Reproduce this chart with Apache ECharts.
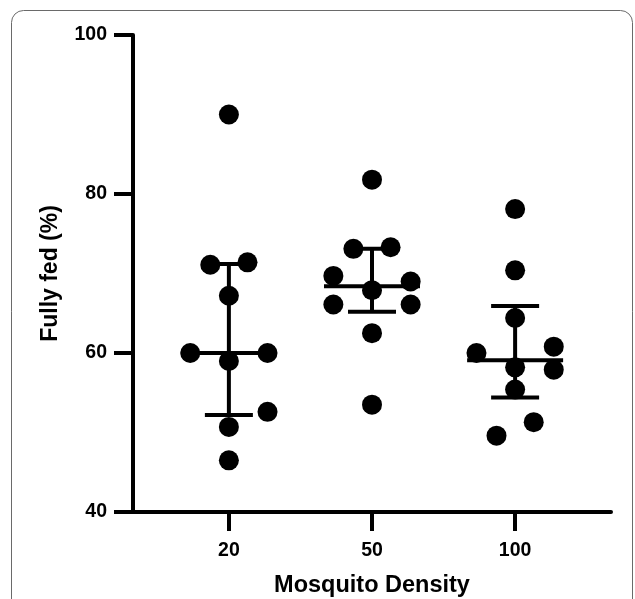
<!DOCTYPE html>
<html>
<head>
<meta charset="utf-8">
<script src="https://cdn.jsdelivr.net/npm/echarts@6/dist/echarts.min.js"></script>
<style>html,body{margin:0;padding:0;background:#fff;}#chart{width:635px;height:599px;}</style>
</head>
<body>
<div id="chart"></div>
<script>
// ---- data ----
var categories = ['20', '50', '100'];
var yTicks = [40, 60, 80, 100];
var fed20  = [90.0, 71.1, 71.4, 67.2, 60.0, 60.0, 59.0, 52.6, 50.7, 46.5];
var jit20  = [0, -0.13, 0.13, 0, -0.27, 0.27, 0, 0.27, 0, 0];
var fed50  = [81.8, 73.1, 73.3, 69.7, 69.0, 67.9, 66.1, 66.1, 62.5, 53.5];
var jit50  = [0, -0.13, 0.13, -0.27, 0.27, 0, -0.27, 0.27, 0, 0];
var fed100 = [78.1, 70.4, 64.4, 60.0, 60.8, 58.2, 57.9, 55.4, 51.3, 49.6];
var jit100 = [0, 0, 0, -0.27, 0.27, 0, 0.27, 0, 0.13, -0.13];
var medians = [60.0, 68.4, 59.1];
var q1 = [52.2, 65.2, 54.4];
var q3 = [71.2, 73.1, 65.9];

var groups = [[fed20, jit20], [fed50, jit50], [fed100, jit100]];
var points = [];
groups.forEach(function (g, gi) {
  g[0].forEach(function (v, i) { points.push([gi + 1 + g[1][i], v]); });
});
var bars = categories.map(function (c, i) { return [i + 1, medians[i], q1[i], q3[i]]; });

var FONT = '"Liberation Sans", Arial, sans-serif';
var chart = echarts.init(document.getElementById('chart'), null, {renderer: 'canvas'});
chart.setOption({
  animation: false,
  backgroundColor: '#fff',
  graphic: [{
    type: 'rect', shape: {x: 11.5, y: 10.5, width: 621, height: 640, r: 12},
    style: {fill: 'none', stroke: '#6a6a6a', lineWidth: 1}, z: 0
  }],
  grid: {left: 133, right: 24, top: 35, bottom: 87, containLabel: false, outerBoundsMode: 'none'},
  xAxis: {
    type: 'value', min: 0.33, max: 3.67,
    name: 'Mosquito Density', nameLocation: 'middle', nameGap: 62,
    nameTextStyle: {fontFamily: FONT, fontWeight: 'bold', fontSize: 23.5, color: '#000'},
    axisLine: {show: true, lineStyle: {color: '#000', width: 4}},
    axisTick: {show: true, customValues: [1, 2, 3], length: 19, lineStyle: {color: '#000', width: 4}},
    axisLabel: {customValues: [1, 2, 3], margin: 29, fontFamily: FONT, fontWeight: 'bold', fontSize: 19.5, color: '#000',
      formatter: function (v) { return categories[Math.round(v) - 1]; }},
    splitLine: {show: false}
  },
  yAxis: {
    type: 'value', min: 40, max: 100, interval: 20,
    name: 'Fully fed (%)', nameLocation: 'middle', nameGap: 71,
    nameTextStyle: {fontFamily: FONT, fontWeight: 'bold', fontSize: 23, color: '#000'},
    axisLine: {show: true, lineStyle: {color: '#000', width: 4}},
    axisTick: {show: true, length: 19, lineStyle: {color: '#000', width: 4}},
    axisLabel: {margin: 26, fontFamily: FONT, fontWeight: 'bold', fontSize: 19.5, color: '#000',
      padding: [6, 0, 0, 0], customValues: yTicks},
    splitLine: {show: false}
  },
  series: [{
    type: 'scatter', data: points, symbol: 'circle', symbolSize: 20,
    itemStyle: {color: '#000', opacity: 1}, z: 2
  }, {
    type: 'custom', data: bars, z: 3,
    renderItem: function (params, api) {
      var x = api.value(0);
      var m = api.coord([x, api.value(1)]);
      var lo = api.coord([x, api.value(2)]);
      var hi = api.coord([x, api.value(3)]);
      var st = {stroke: '#000', lineWidth: 4, fill: 'none'};
      return {type: 'group', children: [
        {type: 'line', shape: {x1: m[0] - 48, y1: m[1], x2: m[0] + 48, y2: m[1]}, style: st},
        {type: 'line', shape: {x1: m[0], y1: lo[1], x2: m[0], y2: hi[1]}, style: st},
        {type: 'line', shape: {x1: m[0] - 24, y1: lo[1], x2: m[0] + 24, y2: lo[1]}, style: st},
        {type: 'line', shape: {x1: m[0] - 24, y1: hi[1], x2: m[0] + 24, y2: hi[1]}, style: st}
      ]};
    }
  }]
});
</script>
</body>
</html>
